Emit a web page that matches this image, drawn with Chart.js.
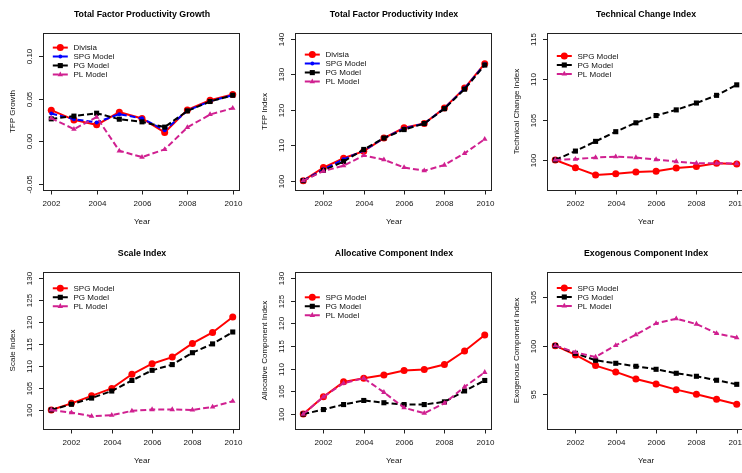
<!DOCTYPE html>
<html>
<head>
<meta charset="utf-8">
<script src="https://cdn.jsdelivr.net/npm/chart.js@4/dist/chart.umd.min.js"></script>
<style>
  body { margin: 0; width: 742px; height: 473px; overflow: hidden; position: relative; background: #fff; }
  .panel { position: absolute; }
</style>
</head>
<body>
<div class="panel" style="left:0px;top:0px"><canvas id="p1" width="252" height="240"></canvas></div>
<div class="panel" style="left:252px;top:0px"><canvas id="p2" width="252" height="240"></canvas></div>
<div class="panel" style="left:504px;top:0px"><canvas id="p3" width="252" height="240"></canvas></div>
<div class="panel" style="left:0px;top:239px"><canvas id="p4" width="252" height="240"></canvas></div>
<div class="panel" style="left:252px;top:239px"><canvas id="p5" width="252" height="240"></canvas></div>
<div class="panel" style="left:504px;top:239px"><canvas id="p6" width="252" height="240"></canvas></div>
<script>
// years
const years = [2001, 2002, 2003, 2004, 2005, 2006, 2007, 2008, 2009, 2010];
const growthYears = [2002, 2003, 2004, 2005, 2006, 2007, 2008, 2009, 2010];
const yearTicks = [2002, 2004, 2006, 2008, 2010];

// TFP growth
const growthTicks = [-0.05, 0, 0.05, 0.1];
const growthDivisia = [0.0366, 0.0252, 0.0194, 0.0342, 0.0269, 0.0105, 0.0369, 0.0482, 0.0549];
const growthSPG = [0.0327, 0.026, 0.0222, 0.0319, 0.027, 0.0132, 0.036, 0.047, 0.054];
const growthPG = [0.0264, 0.0296, 0.033, 0.026, 0.0229, 0.0167, 0.0357, 0.0467, 0.054];
const growthPL = [0.0272, 0.0144, 0.0284, -0.011, -0.0183, -0.0093, 0.0164, 0.0315, 0.0389];

// TFP index
const tfpTicks = [100, 110, 120, 130, 140];
const tfpDivisia = [100, 103.7, 106.3, 108.3, 112.0, 114.9, 116.1, 120.5, 126.1, 133.0];
const tfpSPG = [100, 103.2, 106.0, 108.5, 112.0, 114.7, 116.1, 120.4, 126.0, 132.8];
const tfpPG = [100, 102.9, 105.4, 108.8, 112.0, 114.4, 116.1, 120.3, 125.8, 132.6];
const tfpPL = [100, 102.7, 104.2, 107.1, 105.9, 103.7, 102.8, 104.4, 107.7, 111.7];

// technical change
const techTicks = [100, 105, 110, 115];
const techSPG = [100, 99.05, 98.15, 98.3, 98.5, 98.6, 99.0, 99.2, 99.6, 99.5];
const techPG = [100, 101.1, 102.3, 103.5, 104.6, 105.5, 106.2, 107.05, 108.0, 109.3];
const techPL = [100, 100.1, 100.3, 100.4, 100.3, 100.05, 99.8, 99.6, 99.6, 99.55];

// scale
const scaleTicks = [100, 105, 110, 115, 120, 125, 130];
const scaleSPG = [100, 101.5, 103.2, 104.9, 108.1, 110.5, 112.0, 115.1, 117.6, 121.1];
const scalePG = [100, 101.3, 102.7, 104.3, 106.7, 109.0, 110.3, 113.0, 115.0, 117.7];
const scalePL = [100, 99.4, 98.6, 98.8, 99.8, 100.1, 100.1, 100.0, 100.7, 102.0];

// allocative
const allocTicks = [100, 105, 110, 115, 120, 125, 130];
const allocSPG = [100, 103.8, 107.1, 107.9, 108.6, 109.6, 109.8, 110.9, 113.9, 117.4];
const allocPG = [100, 101.0, 102.1, 103.0, 102.5, 102.1, 102.1, 102.7, 105.1, 107.4];
const allocPL = [100, 103.8, 106.8, 107.9, 104.8, 101.4, 100.2, 102.4, 106.0, 109.2];

// exogenous
const exoTicks = [95, 100, 105];
const exoSPG = [100, 99.04, 97.94, 97.29, 96.56, 96.05, 95.46, 94.98, 94.47, 93.95];
const exoPG = [100, 99.21, 98.49, 98.18, 97.87, 97.56, 97.15, 96.84, 96.43, 96.01];
const exoPL = [100, 99.31, 98.83, 100.03, 101.13, 102.3, 102.78, 102.23, 101.27, 100.82];

const FONT = "'Liberation Sans', Arial, Helvetica, sans-serif";
const TEXT = "#111";
const DASH = [6, 3];
const redCircle = { color: "#FF0000", dash: [], point: "circle", radius: 3.5 };
const blueDot = { color: "#0000FF", dash: DASH, point: "circle", radius: 2 };
const blackSquare = { color: "#000000", dash: DASH, point: "rect", radius: 3.6 };
const pinkTriangle = { color: "#D02090", dash: DASH, point: "triangle", radius: 3.2 };

// R style axis range: 4% padding each side
const rLim = (lo, hi) => [lo - 0.04 * (hi - lo), hi + 0.04 * (hi - lo)];

const panels = [
  {
    id: "p1", title: "Total Factor Productivity Growth", ylab: "TFP Growth",
    x: growthYears, xlim: [2002, 2010], ylim: [-0.05, 0.12], yTicks: growthTicks, legendTop: 14.6,
    series: [["Divisia", growthDivisia, redCircle], ["SPG Model", growthSPG, blueDot],
             ["PG Model", growthPG, blackSquare], ["PL Model", growthPL, pinkTriangle]],
  },
  {
    id: "p2", title: "Total Factor Productivity Index", ylab: "TFP Index",
    x: years, xlim: [2001, 2010], ylim: [99, 140], yTicks: tfpTicks, legendTop: 21.6,
    series: [["Divisia", tfpDivisia, redCircle], ["SPG Model", tfpSPG, blueDot],
             ["PG Model", tfpPG, blackSquare], ["PL Model", tfpPL, pinkTriangle]],
  },
  {
    id: "p3", title: "Technical Change Index", ylab: "Technical Change Index",
    x: years, xlim: [2001, 2010], ylim: [97, 115], yTicks: techTicks, legendTop: 23,
    series: [["SPG Model", techSPG, redCircle], ["PG Model", techPG, blackSquare], ["PL Model", techPL, pinkTriangle]],
  },
  {
    id: "p4", title: "Scale Index", ylab: "Scale Index",
    x: years, xlim: [2001, 2010], ylim: [97, 130], yTicks: scaleTicks, legendTop: 16.3,
    series: [["SPG Model", scaleSPG, redCircle], ["PG Model", scalePG, blackSquare], ["PL Model", scalePL, pinkTriangle]],
  },
  {
    id: "p5", title: "Allocative Component Index", ylab: "Allocative Component Index",
    x: years, xlim: [2001, 2010], ylim: [98, 130], yTicks: allocTicks, legendTop: 25.3,
    series: [["SPG Model", allocSPG, redCircle], ["PG Model", allocPG, blackSquare], ["PL Model", allocPL, pinkTriangle]],
  },
  {
    id: "p6", title: "Exogenous Component Index", ylab: "Exogenous Component Index",
    x: years, xlim: [2001, 2010], ylim: [92, 107], yTicks: exoTicks, legendTop: 16,
    series: [["SPG Model", exoSPG, redCircle], ["PG Model", exoPG, blackSquare], ["PL Model", exoPL, pinkTriangle]],
  },
];

// draws the R-like frame, axes, titles and legend
const rFrame = {
  id: "rFrame",
  afterDraw(chart, args, opts) {
    const { ctx, chartArea: a } = chart;
    const xs = chart.scales.x;
    const ys = chart.scales.y;
    const cx = (a.left + a.right) / 2;
    const cy = (a.top + a.bottom) / 2;
    ctx.save();
    ctx.strokeStyle = "#222";
    ctx.lineWidth = 1;
    ctx.setLineDash([]);
    ctx.strokeRect(a.left - 0.5, a.top + 0.5, a.right - a.left, a.bottom - a.top);

    ctx.fillStyle = TEXT;
    ctx.font = `8px ${FONT}`;
    ctx.textAlign = "center";
    ctx.textBaseline = "middle";

    opts.yTicks.forEach((v) => {
      const py = Math.round(ys.getPixelForValue(v)) + 0.5;
      ctx.beginPath();
      ctx.moveTo(a.left - 0.5, py);
      ctx.lineTo(a.left - 5, py);
      ctx.stroke();
      ctx.save();
      ctx.translate(a.left - 14, py);
      ctx.rotate(-Math.PI / 2);
      ctx.fillText(String(v.toFixed(opts.decimals)), 0, 0);
      ctx.restore();
    });

    yearTicks.forEach((v) => {
      const px = Math.round(xs.getPixelForValue(v)) + 0.5;
      ctx.beginPath();
      ctx.moveTo(px, a.bottom + 0.5);
      ctx.lineTo(px, a.bottom + 4.5);
      ctx.stroke();
      ctx.fillText(String(v), px, a.bottom + 14);
    });

    ctx.fillText("Year", cx, a.bottom + 32);
    ctx.save();
    ctx.translate(a.left - 31, cy);
    ctx.rotate(-Math.PI / 2);
    ctx.fillText(opts.ylab, 0, 0);
    ctx.restore();

    ctx.fillStyle = "#000";
    ctx.font = `bold 8.8px ${FONT}`;
    ctx.fillText(opts.title, cx, a.top - 18);

    // legend
    ctx.font = `8px ${FONT}`;
    ctx.textAlign = "left";
    chart.data.datasets.forEach((ds, i) => {
      const ly = a.top + opts.legendTop + i * 9;
      const sx = a.left + 16.3;
      ctx.strokeStyle = ds.borderColor;
      ctx.lineWidth = ds.borderWidth;
      ctx.setLineDash(ds.borderDash);
      ctx.beginPath();
      ctx.moveTo(sx - 7.5, ly);
      ctx.lineTo(sx + 7.5, ly);
      ctx.stroke();
      ctx.setLineDash([]);
      ctx.fillStyle = ds.pointBackgroundColor;
      Chart.helpers.drawPoint(ctx, { pointStyle: ds.pointStyle, radius: ds.pointRadius, rotation: 0, borderWidth: 0 }, sx, ly);
      ctx.fillStyle = TEXT;
      ctx.fillText(ds.label, a.left + 29.5, ly + 0.5);
    });
    ctx.restore();
  },
};

panels.forEach((p) => {
  const n = p.series.length;
  const [xMin, xMax] = rLim(p.xlim[0], p.xlim[1]);
  const [yMin, yMax] = rLim(p.ylim[0], p.ylim[1]);
  const decimals = p.id === "p1" ? 2 : 0;
  new Chart(document.getElementById(p.id), {
    type: "line",
    data: {
      datasets: p.series.map(([label, values, st], i) => ({
        label,
        data: values.map((v, k) => ({ x: p.x[k], y: v })),
        borderColor: st.color,
        borderWidth: 2,
        borderDash: st.dash,
        pointStyle: st.point,
        pointRadius: st.radius,
        pointBackgroundColor: st.color,
        pointBorderWidth: 0,
        tension: 0,
        clip: false,
        order: n - 1 - i,
      })),
    },
    options: {
      responsive: false,
      animation: false,
      devicePixelRatio: 1,
      layout: { padding: { left: 44, top: 33, right: 12, bottom: 50 } },
      plugins: {
        legend: { display: false },
        tooltip: { enabled: false },
        rFrame: { title: p.title, ylab: p.ylab, yTicks: p.yTicks, legendTop: p.legendTop, decimals },
      },
      scales: {
        x: { type: "linear", min: xMin, max: xMax, display: false },
        y: { type: "linear", min: yMin, max: yMax, display: false },
      },
    },
    plugins: [rFrame],
  });
});
</script>
</body>
</html>
